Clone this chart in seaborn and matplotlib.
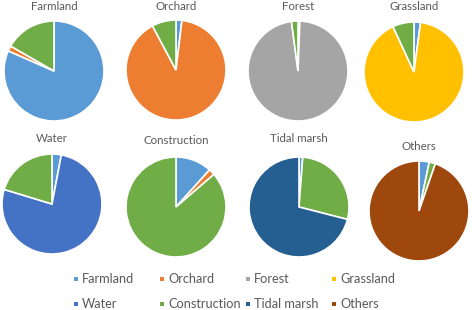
import matplotlib
matplotlib.use("Agg")
import matplotlib.pyplot as plt
import seaborn as sns

# land use classes (legend order, also slice order clockwise from 12 o'clock)
classes = ["Farmland", "Orchard", "Forest", "Grassland",
           "Water", "Construction", "Tidal marsh", "Others"]

# share (%) of each class inside every panel
farmland     = [81.6, 1.7, 0, 0, 0, 16.7, 0, 0]
orchard      = [1.9, 90.3, 0, 0, 0, 7.8, 0, 0]
forest       = [0.6, 0, 97.3, 0, 0, 2.1, 0, 0]
grassland    = [2.1, 0, 0, 91.0, 0, 6.9, 0, 0]
water        = [3.0, 0, 0, 0, 76.7, 20.3, 0, 0]
construction = [11.7, 2.0, 0, 0, 0, 86.3, 0, 0]
tidal_marsh  = [1.2, 0, 0, 0, 0, 27.8, 71.0, 0]
others       = [3.3, 0, 0, 0, 0, 2.0, 0, 94.7]

panels = [farmland, orchard, forest, grassland,
          water, construction, tidal_marsh, others]

sns.set_theme(style="white")
plt.rcParams['font.family'] = ['Lato', 'DejaVu Sans']
palette = sns.color_palette(["#5B9BD5", "#ED7D31", "#A5A5A5", "#FFC000",
                             "#4472C4", "#70AD47", "#255E91", "#9E480E"])
txt = "#595959"

W, H = 472, 310
fig = plt.figure(figsize=(W / 100, H / 100), dpi=100)
fig.patch.set_facecolor("white")

# pie centres / title centres in pixels (layout only)
centres = [(54, 71), (176, 70), (298, 71), (414, 72),
           (52, 204), (176, 207), (299, 207), (419, 211)]
title_y = [6, 6, 6, 6, 138, 140, 138, 145]
r = 51

for i, vals in enumerate(panels):
    cx, cy = centres[i]
    ax = fig.add_axes([(cx - r) / W, 1 - (cy + r) / H, 2 * r / W, 2 * r / H])
    keep = [j for j, v in enumerate(vals) if v > 0]
    ax.pie([vals[j] for j in keep], colors=[palette[j] for j in keep],
           startangle=90, counterclock=False,
           wedgeprops=dict(edgecolor="white", linewidth=1.2))
    ax.set_xlim(-1.02, 1.02)
    ax.set_ylim(-1.02, 1.02)
    ax.set_aspect("equal")
    ax.axis("off")
    fig.text(cx / W, 1 - title_y[i] / H, classes[i], ha="center",
             va="center_baseline", fontsize=8.3, color=txt)

# legend, Excel style: uniform columns, small square keys
lg = fig.add_axes([0, 0, 1, 1])
lg.set_xlim(0, W)
lg.set_ylim(H, 0)
lg.axis("off")
for i, name in enumerate(classes):
    x = 76 + 86 * (i % 4)
    y = 279 + 25 * (i // 4)
    lg.scatter([x], [y], marker="s", s=12, color=palette[i], linewidths=0)
    lg.text(x + 6, y, name, va="center", ha="left", fontsize=9.2, color=txt)

fig.savefig("out.png", dpi=100)
